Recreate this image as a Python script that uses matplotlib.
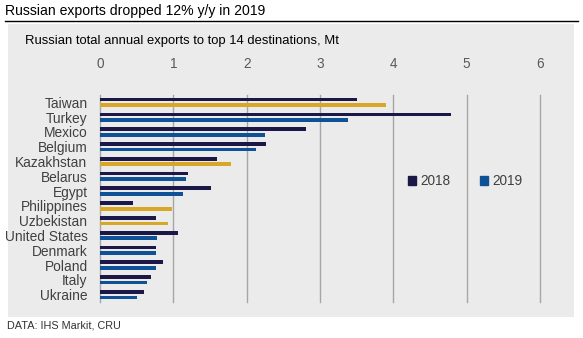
import matplotlib.pyplot as plt
from matplotlib.patches import Rectangle
from matplotlib.lines import Line2D
import numpy as np

plt.rcParams['font.family'] = ['Liberation Sans', 'DejaVu Sans']

countries = ['Taiwan', 'Turkey', 'Mexico', 'Belgium', 'Kazakhstan', 'Belarus', 'Egypt',
             'Philippines', 'Uzbekistan', 'United States', 'Denmark', 'Poland', 'Italy', 'Ukraine']
exports_2018 = [3.51, 4.79, 2.81, 2.27, 1.59, 1.20, 1.51, 0.45, 0.76, 1.07, 0.76, 0.86, 0.69, 0.60]
exports_2019 = [3.90, 3.38, 2.25, 2.13, 1.78, 1.17, 1.13, 0.98, 0.93, 0.78, 0.76, 0.76, 0.64, 0.50]
x_ticks = [0, 1, 2, 3, 4, 5, 6]

c18 = '#1b1747'
c19 = '#0f5196'
c_up = '#d8a728'
panel = '#ebebeb'

fig = plt.figure(figsize=(5.83, 3.38), dpi=100)
fig.patch.set_facecolor('white')

# grey panel behind the chart
fig.patches.append(Rectangle((8 / 583, 1 - 317 / 338), 566 / 583, 293 / 338,
                             transform=fig.transFigure, facecolor=panel,
                             edgecolor='none', zorder=-5))
fig.lines.append(Line2D([5 / 583, 578 / 583], [1 - 21 / 338, 1 - 21 / 338],
                        transform=fig.transFigure, color='black', lw=1.0))

fig.text(5 / 583, 1 - 11 / 338, 'Russian exports dropped 12% y/y in 2019',
         fontsize=10.1, va='center', ha='left', color='black')
fig.text(25 / 583, 1 - 41 / 338, 'Russian total annual exports to top 14 destinations, Mt',
         fontsize=9.4, va='center', ha='left', color='black')
fig.text(7 / 583, 1 - 326 / 338, 'DATA: IHS Markit, CRU',
         fontsize=7.8, va='center', ha='left', color='#333333')

ax = fig.add_axes([100 / 583, 1 - 302 / 338, 440 / 583, 207 / 338])
ax.set_facecolor('none')
ax.set_zorder(2)

y = np.arange(len(countries))
h = 0.25
off = 0.19
ax.barh(y - off, exports_2018, height=h, color=c18, zorder=3)
cols19 = [c_up if b > a else c19 for a, b in zip(exports_2018, exports_2019)]
ax.barh(y + off, exports_2019, height=h, color=cols19, zorder=3)

ax.set_xlim(0, 6)
ax.set_ylim(len(countries) - 0.5, -0.5)
ax.set_yticks(y)
ax.set_yticklabels(countries, fontsize=9.9, color='#404040')
ax.set_xticks(x_ticks)
ax.xaxis.tick_top()
ax.tick_params(axis='x', length=0, pad=17, labelsize=9.8, labelcolor='#595959')
ax.tick_params(axis='y', length=0, pad=9)
ax.grid(axis='x', color='#a6a6a6', lw=1.0, zorder=0)
for gl in ax.get_xgridlines():
    gl.set_clip_on(False)
for s in ax.spines.values():
    s.set_visible(False)

handles = [Rectangle((0, 0), 1, 1, color=c18), Rectangle((0, 0), 1, 1, color=c19)]
leg = ax.legend(handles, ['2018', '2019'], ncol=2, frameon=False, fontsize=9.8,
                loc='center', bbox_to_anchor=(4.98, 5.35), bbox_transform=ax.transData,
                handlelength=0.6, handleheight=0.6, handletextpad=0.3, columnspacing=2.2)
for t in leg.get_texts():
    t.set_color('#404040')

fig.savefig('out.png', dpi=100, facecolor=fig.get_facecolor())
